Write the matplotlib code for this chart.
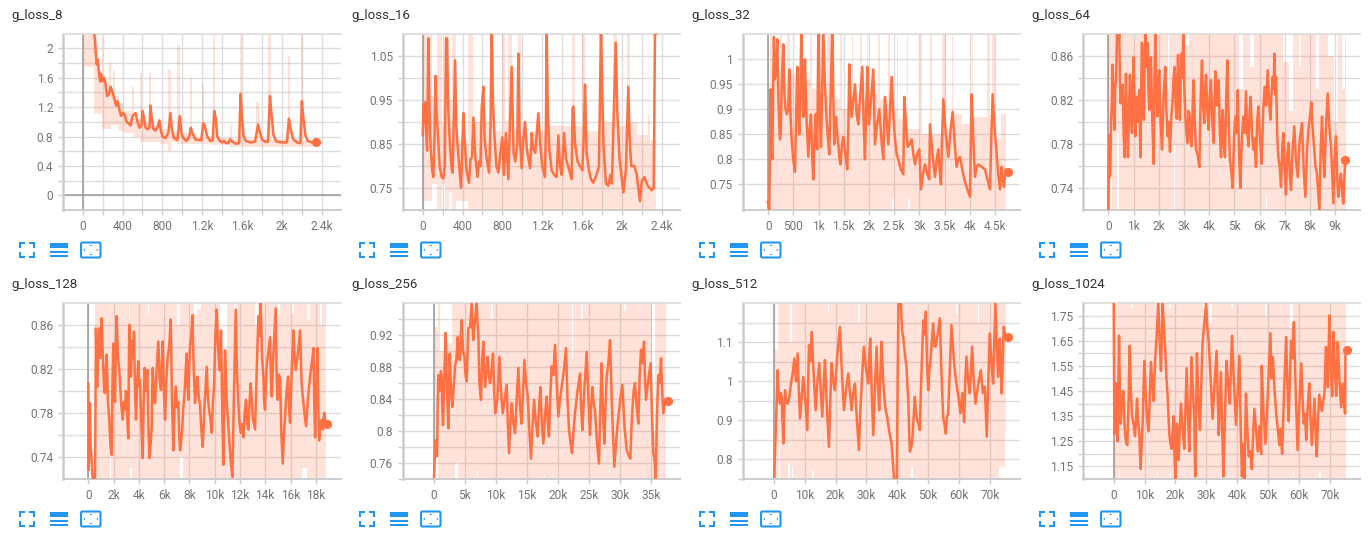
#!/usr/bin/env python3
# -*- coding: utf-8 -*-
"""
Eight g_loss scalar panels in the tensorboard look.
"""

import numpy as np
import matplotlib
matplotlib.use("Agg")
import matplotlib.pyplot as plt
from matplotlib.patches import FancyBboxPatch, Polygon, Rectangle

plt.rcParams['font.family'] = ['Roboto', 'DejaVu Sans']

LINE = '#ff7043'
GRID = '#dddddd'
EDGE = '#cccccc'
ZERO = '#999999'
BLUE = '#2196f3'

# smoothed curves, (step, value)
loss_8 = [(117,2.2),(130,1.95),(140,1.78),(150,1.85),(160,1.7),(175,1.55),(185,1.65),(195,1.55),(215,1.6),(230,1.5),(245,1.35),(265,1.38),(280,1.48),(300,1.4),(320,1.3),(335,1.22),(350,1.28),(365,1.18),(385,1.08),(400,1.12),(420,1.1),(440,1.0),(460,0.98),(480,0.95),(500,1.08),(515,1.1),(530,1.12),(550,1.0),(570,0.92),(590,0.95),(600,1.15),(615,1.05),(630,0.92),(650,0.9),(670,0.92),(680,1.22),(695,1.02),(710,0.9),(730,0.88),(750,0.92),(770,1.02),(785,0.88),(800,0.8),(830,0.78),(860,0.85),(880,1.12),(895,0.9),(915,0.78),(950,0.75),(975,1.08),(990,0.85),(1010,0.78),(1040,0.74),(1070,0.8),(1085,0.92),(1100,0.85),(1130,0.76),(1190,0.75),(1210,0.98),(1225,0.95),(1250,0.8),(1280,0.74),(1305,0.75),(1320,1.15),(1335,1.05),(1350,0.8),(1375,0.74),(1400,0.72),(1420,0.74),(1440,0.71),(1460,0.71),(1480,0.76),(1500,0.73),(1540,0.7),(1570,0.71),(1585,1.38),(1600,1.05),(1615,0.8),(1640,0.74),(1680,0.72),(1730,0.73),(1760,0.96),(1780,0.85),(1800,0.76),(1830,0.73),(1860,0.73),(1880,1.35),(1895,1.1),(1915,0.82),(1945,0.73),(2000,0.72),(2050,0.72),(2070,1.04),(2085,0.92),(2110,0.77),(2150,0.72),(2185,0.71),(2200,1.28),(2215,1.05),(2235,0.82),(2260,0.74),(2300,0.72),(2340,0.73)]

loss_16 = [(0,.87),(8,.94),(16,.9),(24,.945),(32,.89),(44,.835),(57,1.09),(68,.93),(80,.84),(95,.79),(107,.775),(118,.86),(125,.955),(130,1.005),(138,.93),(150,.88),(170,.8),(190,.775),(208,.772),(222,.8),(234,1.09),(244,1.09),(256,.93),(275,.84),(290,.795),(301,.785),(312,.9),(325,1.04),(338,.89),(352,.84),(370,.79),(385,.75),(398,.85),(408,.92),(420,.86),(440,.79),(465,.762),(480,.815),(495,.82),(509,.91),(525,.83),(549,.775),(565,.81),(580,.8),(592,.93),(609,.98),(622,.86),(640,.82),(666,.785),(680,.88),(693,1.11),(705,.95),(720,.87),(740,.8),(760,.785),(780,.83),(800,.865),(815,.78),(835,.875),(860,.77),(875,.89),(894,1.025),(912,.83),(930,.81),(950,.85),(960,1.055),(972,.88),(994,.795),(1010,.86),(1028,.9),(1045,.84),(1078,.795),(1095,.875),(1110,.84),(1130,.83),(1161,.92),(1180,.85),(1200,.8),(1228,.775),(1238,.9),(1245,1.11),(1255,.95),(1270,.84),(1295,.79),(1320,.78),(1345,.775),(1362,.87),(1378,.8),(1396,.78),(1419,.875),(1440,.815),(1460,.8),(1496,.77),(1505,.93),(1513,.935),(1530,.85),(1555,.81),(1580,.8),(1603,.79),(1618,.87),(1630,.985),(1645,.83),(1670,.79),(1690,.77),(1713,.762),(1745,.78),(1770,.8),(1790,1.11),(1800,1.0),(1815,.85),(1840,.76),(1864,.755),(1885,.78),(1900,.76),(1938,1.08),(1955,.92),(1975,.82),(2015,.74),(2040,.79),(2065,.98),(2078,.86),(2095,.8),(2125,.8),(2150,.78),(2182,.72),(2200,.765),(2225,.775),(2260,.755),(2300,.745),(2320,.75),(2333,1.11)]

loss_32 = [(-10,.715),(20,.70),(46,.94),(62,.86),(79,.80),(95,.93),(112,1.045),(130,.96),(146,.97),(162,1.0),(179,1.04),(198,.93),(218,.87),(232,.84),(245,.85),(270,.96),(298,1.03),(320,.93),(344,.9),(370,.89),(397,.9),(417,.98),(440,.89),(463,.84),(495,.8),(529,.775),(552,.88),(576,.985),(595,.9),(615,.85),(635,.93),(655,1.05),(675,.95),(695,.885),(712,.94),(728,1.0),(760,.88),(794,.805),(820,.86),(847,.89),(870,.81),(893,.76),(915,.83),(940,.89),(955,.84),(973,.82),(993,1.06),(1020,.9),(1046,.825),(1070,.94),(1092,1.06),(1125,.95),(1158,.88),(1185,.84),(1211,.81),(1240,.94),(1271,1.06),(1292,.92),(1310,.83),(1328,.87),(1343,.885),(1368,.85),(1390,.83),(1412,.8),(1436,.79),(1462,.83),(1489,.845),(1530,.81),(1568,.78),(1590,.87),(1608,.99),(1632,.92),(1655,.885),(1690,.92),(1721,.95),(1755,.89),(1787,.87),(1825,.93),(1866,.985),(1892,.88),(1919,.8),(1945,.9),(1966,.985),(1983,.92),(1999,.87),(2040,.92),(2085,.98),(2102,.9),(2118,.83),(2160,.87),(2204,.9),(2245,.84),(2283,.8),(2300,.87),(2316,.925),(2350,.88),(2383,.83),(2418,.9),(2449,.965),(2482,.89),(2515,.84),(2550,.81),(2581,.8),(2630,.78),(2680,.77),(2700,.925),(2735,.87),(2766,.825),(2805,.83),(2846,.84),(2880,.81),(2912,.79),(2955,.81),(2998,.82),(3031,.74),(3070,.77),(3110,.79),(3155,.77),(3196,.76),(3210,.87),(3260,.81),(3309,.765),(3345,.8),(3375,.82),(3400,.78),(3428,.75),(3450,.84),(3474,.92),(3525,.85),(3574,.805),(3620,.86),(3660,.895),(3700,.83),(3739,.785),(3772,.8),(3805,.805),(3850,.78),(3891,.76),(3950,.74),(4004,.725),(4037,.93),(4070,.84),(4103,.765),(4135,.785),(4169,.79),(4235,.785),(4302,.78),(4350,.76),(4401,.74),(4430,.85),(4454,.93),(4495,.86),(4533,.81),(4565,.77),(4600,.74),(4632,.785),(4655,.76),(4679,.745),(4710,.78),(4752,.775)]

loss_64 = [(0,.72),(20,.76),(40,.788),(60,.75),(80,.753),(110,.8),(145,.82),(170,.852),(205,.82),(240,.793),(270,.83),(305,.838),(325,.86),(345,.88),(390,.87),(435,.88),(460,.84),(490,.817),(530,.83),(570,.834),(610,.79),(650,.768),(675,.81),(700,.844),(740,.8),(780,.768),(820,.81),(860,.843),(900,.805),(940,.79),(975,.835),(1005,.859),(1035,.82),(1070,.787),(1100,.82),(1135,.823),(1180,.80),(1230,.829),(1255,.79),(1280,.768),(1310,.84),(1335,.872),(1375,.82),(1415,.802),(1440,.85),(1465,.88),(1510,.85),(1560,.872),(1590,.83),(1625,.811),(1655,.845),(1690,.859),(1745,.80),(1800,.762),(1830,.84),(1865,.88),(1905,.83),(1945,.805),(1980,.835),(2020,.847),(2075,.80),(2130,.775),(2195,.825),(2260,.85),(2305,.81),(2355,.787),(2400,.80),(2445,.773),(2500,.805),(2550,.82),(2590,.84),(2630,.85),(2670,.815),(2710,.803),(2740,.84),(2765,.861),(2800,.825),(2840,.802),(2870,.84),(2895,.862),(2935,.84),(2975,.88),(3015,.83),(3055,.805),(3100,.79),(3145,.781),(3180,.81),(3215,.808),(3260,.785),(3305,.778),(3345,.815),(3385,.838),(3430,.8),(3475,.775),(3545,.77),(3610,.759),(3660,.82),(3715,.856),(3760,.815),(3805,.799),(3840,.83),(3875,.843),(3925,.81),(3980,.793),(4025,.825),(4070,.838),(4125,.8),(4180,.781),(4215,.82),(4245,.846),(4310,.815),(4375,.838),(4425,.79),(4470,.768),(4505,.8),(4535,.811),(4580,.78),(4625,.768),(4675,.82),(4720,.856),(4775,.8),(4825,.765),(4880,.755),(4930,.74),(4985,.785),(5035,.805),(5085,.79),(5130,.829),(5185,.77),(5235,.74),(5295,.785),(5355,.805),(5410,.79),(5460,.828),(5510,.79),(5565,.778),(5605,.81),(5645,.823),(5700,.79),(5750,.775),(5800,.785),(5855,.759),(5900,.8),(5950,.814),(6015,.785),(6080,.762),(6140,.81),(6200,.832),(6260,.815),(6320,.847),(6370,.82),(6425,.802),(6470,.825),(6520,.841),(6555,.83),(6585,.862),(6620,.825),(6650,.841),(6695,.79),(6740,.768),(6795,.76),(6850,.741),(6895,.775),(6940,.79),(6990,.76),(7045,.734),(7095,.77),(7150,.781),(7200,.75),(7245,.738),(7310,.775),(7375,.796),(7440,.765),(7510,.75),(7595,.785),(7680,.799),(7750,.755),(7815,.732),(7880,.775),(7945,.796),(8000,.805),(8050,.818),(8100,.795),(8155,.778),(8215,.76),(8275,.753),(8325,.735),(8370,.72),(8420,.775),(8475,.805),(8520,.77),(8565,.75),(8630,.795),(8700,.826),(8765,.795),(8830,.778),(8880,.75),(8925,.726),(8975,.77),(9030,.787),(9075,.75),(9120,.732),(9170,.745),(9225,.753),(9275,.735),(9320,.726),(9360,.75),(9400,.765)]

loss_128 = [(0,.807),(26,.728),(80,.76),(130,.789),(185,.75),(240,.742),(290,.73),(345,.72),(440,.72),(530,.72),(570,.8),(605,.857),(660,.81),(710,.804),(790,.84),(870,.857),(960,.83),(1055,.866),(1120,.84),(1190,.819),(1255,.8),(1320,.798),(1385,.82),(1450,.833),(1555,.79),(1660,.774),(1755,.75),(1850,.742),(1915,.81),(1980,.843),(2045,.81),(2110,.79),(2180,.84),(2245,.868),(2350,.83),(2455,.819),(2590,.79),(2720,.774),(2810,.79),(2900,.783),(2970,.8),(3035,.798),(3100,.77),(3165,.757),(3205,.82),(3245,.86),(3310,.82),(3380,.813),(3430,.835),(3485,.846),(3550,.83),(3615,.854),(3695,.8),(3775,.774),(3870,.81),(3960,.827),(4025,.805),(4090,.81),(4195,.77),(4300,.739),(4380,.79),(4460,.821),(4565,.8),(4670,.819),(4750,.77),(4830,.739),(4925,.75),(5015,.768),(5055,.8),(5095,.821),(5190,.8),(5280,.789),(5410,.82),(5540,.845),(5645,.81),(5750,.801),(5815,.825),(5885,.845),(5980,.8),(6070,.774),(6175,.81),(6280,.831),(6400,.84),(6520,.865),(6625,.79),(6730,.746),(6820,.785),(6915,.804),(7020,.785),(7125,.79),(7190,.76),(7260,.746),(7350,.755),(7440,.768),(7520,.785),(7600,.795),(7690,.815),(7785,.834),(7850,.805),(7915,.792),(7980,.82),(8050,.84),(8140,.85),(8235,.869),(8340,.82),(8445,.789),(8540,.805),(8630,.813),(8735,.795),(8840,.787),(8945,.765),(9050,.749),(9210,.79),(9370,.822),(9460,.795),(9555,.783),(9660,.775),(9765,.762),(9860,.79),(9950,.804),(10050,.85),(10160,.874),(10265,.84),(10370,.819),(10435,.84),(10505,.855),(10600,.78),(10690,.733),(10755,.79),(10820,.837),(10950,.79),(11085,.768),(11240,.74),(11400,.722),(11530,.8),(11665,.874),(11770,.815),(11875,.789),(11965,.77),(12060,.762),(12165,.77),(12270,.758),(12375,.78),(12480,.792),(12575,.77),(12670,.765),(12760,.79),(12850,.807),(13020,.775),(13195,.765),(13330,.82),(13460,.868),(13550,.85),(13645,.88),(13750,.83),(13855,.813),(13920,.79),(13985,.783),(14090,.82),(14200,.831),(14290,.84),(14380,.849),(14450,.81),(14515,.795),(14670,.84),(14830,.875),(14910,.81),(14990,.792),(15080,.815),(15175,.81),(15280,.76),(15385,.734),(15480,.76),(15570,.777),(15690,.8),(15810,.813),(15885,.785),(15965,.771),(16100,.82),(16230,.855),(16320,.83),(16415,.819),(16590,.835),(16760,.855),(16865,.81),(16970,.795),(17100,.78),(17230,.768),(17390,.795),(17550,.813),(17680,.825),(17815,.839),(17880,.79),(17945,.758),(18035,.8),(18130,.839),(18195,.79),(18260,.755),(18365,.77),(18470,.774),(18565,.765),(18660,.78),(18790,.77),(18920,.77)]

loss_256 = [(50,.742),(185,.77),(320,.788),(430,.77),(535,.768),(640,.83),(750,.87),(885,.85),(1020,.851),(1155,.875),(1290,.868),(1395,.83),(1500,.807),(1715,.87),(1930,.923),(2145,.85),(2360,.803),(2470,.85),(2575,.897),(2790,.85),(3005,.83),(3220,.855),(3435,.881),(3650,.89),(3865,.918),(4050,.89),(4240,.889),(4375,.92),(4510,.939),(4725,.9),(4940,.893),(5130,.87),(5315,.862),(5450,.9),(5580,.929),(5850,.93),(6120,.96),(6255,.93),(6390,.914),(6660,.94),(6925,.96),(7060,.935),(7190,.922),(7275,.89),(7355,.86),(7490,.85),(7620,.839),(7810,.89),(8000,.912),(8130,.88),(8265,.855),(8480,.875),(8695,.893),(8880,.87),(9070,.86),(9310,.875),(9555,.897),(9740,.85),(9930,.822),(10250,.84),(10575,.893),(10840,.85),(11110,.822),(11430,.84),(11755,.858),(11940,.81),(12130,.772),(12345,.81),(12560,.835),(12830,.81),(13100,.797),(13370,.84),(13635,.879),(13900,.83),(14170,.809),(14385,.85),(14600,.889),(14870,.86),(15140,.843),(15410,.8),(15675,.765),(15915,.805),(16160,.839),(16455,.81),(16750,.793),(16965,.83),(17180,.855),(17420,.81),(17660,.784),(17930,.82),(18200,.843),(18385,.81),(18570,.793),(18785,.845),(19000,.881),(19270,.87),(19540,.908),(19805,.86),(20075,.818),(20340,.84),(20610,.855),(20960,.875),(21310,.904),(21550,.84),(21795,.801),(22040,.785),(22280,.772),(22520,.8),(22760,.822),(23160,.85),(23565,.872),(23750,.83),(23940,.801),(24290,.855),(24640,.899),(24910,.84),(25175,.795),(25360,.83),(25550,.855),(25765,.835),(25980,.826),(26300,.785),(26625,.759),(26840,.83),(27055,.885),(27270,.82),(27485,.784),(27670,.83),(27860,.868),(28130,.885),(28400,.914),(28750,.82),(29095,.755),(29420,.79),(29740,.818),(30060,.84),(30385,.858),(30730,.805),(31080,.776),(31375,.77),(31670,.765),(31830,.8),(31995,.826),(32205,.85),(32420,.86),(32690,.83),(32960,.809),(33175,.87),(33390,.902),(33630,.885),(33870,.912),(34030,.865),(34195,.839),(34570,.865),(34945,.885),(35160,.82),(35375,.772),(35560,.765),(35750,.74),(35965,.82),(36180,.87),(36395,.86),(36610,.891),(36800,.85),(36985,.822),(37330,.84),(37680,.837)]

loss_512 = [(215,.756),(430,.82),(645,.866),(970,.95),(1290,1.028),(1670,.96),(2050,.943),(2320,.97),(2585,.96),(2850,.9),(3125,.841),(3390,.92),(3660,.977),(4090,.945),(4525,.943),(5060,.96),(5600,.994),(6140,1.02),(6680,1.058),(7220,1.0),(7755,1.071),(8130,.98),(8510,.905),(9050,.96),(9585,1.011),(10230,.95),(10880,.875),(11150,1.0),(11420,1.092),(11850,1.05),(12280,1.126),(12920,1.02),(13570,.926),(14160,1.0),(14755,1.046),(15240,.97),(15725,.909),(16160,.99),(16590,1.054),(17230,.93),(17880,.832),(18310,.95),(18740,1.046),(19280,1.0),(19815,.977),(20620,1.07),(21430,1.139),(22070,1.02),(22720,.926),(23420,.98),(24125,1.02),(24660,.97),(25200,.926),(25740,.97),(26280,.994),(26920,.9),(27570,.824),(28000,.92),(28430,.986),(28810,1.04),(29190,1.088),(29890,1.03),(30590,.994),(30910,1.06),(31230,1.109),(31720,.97),(32200,.862),(32740,.98),(33280,1.088),(33710,.99),(34140,.926),(34520,1.02),(34895,1.101),(35430,1.0),(35970,.943),(36350,.92),(36725,.909),(37400,.87),(38125,.841),(38600,.79),(38990,.747),(39400,.747),(39850,.747),(40100,1.0),(40390,1.203),(40760,1.21),(41140,1.2),(41520,1.13),(41895,1.114),(42430,1.07),(42970,1.037),(43240,.99),(43510,.96),(43780,.88),(44050,.82),(44480,.83),(44910,.858),(45290,.91),(45665,.96),(46040,.92),(46420,.9),(46850,.89),(47280,.875),(47550,.96),(47820,1.028),(48140,1.1),(48465,1.156),(48840,1.12),(49220,1.178),(49600,1.05),(49970,.977),(50350,1.03),(50730,1.054),(51160,1.1),(51590,1.148),(51960,1.09),(52340,1.088),(53040,1.12),(53745,1.161),(54280,1.02),(54820,.909),(55250,.89),(55680,.866),(56060,.91),(56435,.918),(56970,1.03),(57510,1.144),(58050,1.08),(58590,1.028),(59020,1.0),(59450,.977),(59930,.95),(60420,.918),(61010,.97),(61600,.896),(61980,1.0),(62360,1.063),(62900,1.0),(63430,.969),(63810,1.03),(64190,1.088),(64730,1.0),(65270,.943),(66130,.99),(66990,1.028),(67640,.97),(68280,.986),(68600,.92),(68930,.858),(69420,1.0),(69900,1.122),(70430,1.05),(70970,.994),(71350,1.1),(71730,1.2),(72160,1.09),(72590,1.011),(72860,1.06),(73130,1.109),(73450,1.03),(73770,.969),(74100,1.06),(74420,1.139),(75100,1.11),(75820,1.114)]

loss_1024 = [(0,1.8),(110,1.5),(215,1.28),(480,1.36),(755,1.48),(1020,1.35),(1295,1.25),(1510,1.45),(1725,1.67),(2000,1.45),(2265,1.32),(2700,1.42),(3130,1.45),(3450,1.33),(3775,1.27),(4100,1.24),(4420,1.235),(4800,1.4),(5180,1.63),(5550,1.45),(5935,1.35),(6420,1.32),(6905,1.27),(7230,1.34),(7550,1.42),(7920,1.33),(8300,1.28),(8520,1.2),(8735,1.14),(9050,1.24),(9380,1.33),(9650,1.45),(9920,1.57),(10180,1.5),(10450,1.41),(10880,1.33),(11300,1.29),(11680,1.43),(12060,1.565),(12480,1.48),(12900,1.41),(13180,1.5),(13460,1.585),(13950,1.68),(14430,1.8),(14860,1.65),(15300,1.53),(15560,1.65),(15830,1.8),(16260,1.7),(16690,1.61),(17070,1.5),(17450,1.43),(17720,1.35),(17990,1.28),(18360,1.24),(18740,1.22),(19070,1.29),(19400,1.35),(19660,1.2),(19930,1.1),(20200,1.22),(20470,1.32),(20730,1.24),(21000,1.175),(21380,1.3),(21760,1.4),(22300,1.3),(22840,1.22),(23220,1.38),(23600,1.54),(24030,1.36),(24460,1.21),(24830,1.4),(25200,1.585),(25650,1.45),(26100,1.33),(26250,1.2),(26400,1.11),(26660,1.35),(26930,1.6),(27410,1.42),(27900,1.295),(28320,1.47),(28750,1.64),(29320,1.72),(29900,1.8),(30320,1.7),(30750,1.645),(31370,1.5),(32000,1.34),(32650,1.48),(33300,1.61),(33650,1.43),(34000,1.275),(34350,1.4),(34700,1.525),(35100,1.3),(35500,1.11),(36000,1.35),(36500,1.57),(37050,1.48),(37600,1.4),(37950,1.55),(38300,1.67),(38950,1.47),(39600,1.315),(40150,1.45),(40700,1.59),(41100,1.3),(41500,1.11),(41900,1.24),(42300,1.1),(42550,1.27),(42800,1.44),(43250,1.3),(43700,1.19),(44200,1.21),(44700,1.14),(45100,1.27),(45500,1.38),(46050,1.3),(46600,1.21),(47150,1.31),(47700,1.2),(47900,1.55),(48500,1.36),(49100,1.24),(49450,1.33),(49800,1.415),(50250,1.55),(50700,1.68),(51100,1.5),(51500,1.585),(52050,1.45),(52600,1.36),(53100,1.3),(53600,1.235),(54050,1.3),(54500,1.2),(55150,1.45),(55800,1.665),(56200,1.48),(56600,1.33),(57000,1.5),(57400,1.65),(57850,1.58),(58300,1.725),(58900,1.45),(59500,1.215),(60100,1.4),(60700,1.56),(61100,1.43),(61500,1.32),(61900,1.36),(62300,1.255),(62800,1.39),(63300,1.48),(63700,1.34),(64100,1.235),(64550,1.33),(65000,1.42),(65350,1.28),(65700,1.19),(66100,1.33),(66500,1.435),(67350,1.37),(68200,1.44),(68450,1.54),(68700,1.625),(69000,1.53),(69300,1.465),(69550,1.6),(69800,1.75),(70250,1.55),(70700,1.43),(70900,1.56),(71100,1.685),(71550,1.55),(72000,1.43),(72250,1.52),(72500,1.645),(73050,1.5),(73600,1.385),(73850,1.43),(74100,1.48),(74500,1.4),(74900,1.36),(75000,1.615),(75500,1.615)]

# raw curves behind them, kept as (step, low, high), each row holds until the next one
raw_8 = [(10,1.75,2.2),(117,1.1,2.2),(150,1.1,1.7),(190,.9,2.2),(205,.9,1.55),(265,.9,1.8),(285,.95,1.45),(305,.95,1.7),(325,.95,1.35),(350,.9,1.35),(365,.88,1.25),(410,.85,1.15),(490,.85,1.47),(510,.8,1.05),(580,.72,1.66),(600,.72,.98),(670,.72,1.67),(690,.72,.95),(780,.7,.9),(860,.6,1.7),(885,.72,.88),(950,.7,2.05),(975,.7,.85),(1075,.7,1.6),(1095,.7,.8),(1195,.7,1.5),(1215,.7,.8),(1305,.68,2.2),(1325,.68,.78),(1475,.66,.95),(1495,.66,.76),(1575,.66,2.2),(1600,.66,.76),(1740,.66,1.27),(1765,.66,.76),(1865,.66,2.2),(1890,.66,.76),(2060,.66,1.9),(2085,.66,.75),(2190,.66,2.2),(2210,.66,.75),(2340,.66,.66)]

raw_16 = [(0,.72,1.1),(97,.76,.96),(140,.7,1.1),(190,.76,.9),(224,.7,1.1),(264,.74,.95),(298,.7,1.1),(331,.72,.86),(458,.7,1.1),(509,.7,.9),(676,.7,1.1),(710,.7,.88),(793,.7,1.1),(827,.7,.9),(860,.7,1.1),(894,.7,.88),(960,.7,1.1),(987,.7,.86),(1060,.7,.84),(1120,.7,.88),(1228,.7,1.1),(1262,.7,.89),(1496,.7,1.1),(1530,.7,.89),(1597,.7,1.1),(1630,.7,.88),(1780,.7,1.1),(1814,.7,.9),(1914,.7,1.1),(1948,.7,.89),(2048,.7,1.1),(2082,.7,.9),(2149,.7,.87),(2266,.7,.915),(2283,.7,.86),(2343,.7,.7)]

raw_32 = [(33,.7,1.05),(80,.7,.98),(232,.7,1.05),(278,.7,.95),(364,.7,1.05),(430,.7,.97),(560,.7,.93),(629,.7,1.05),(695,.7,.96),(827,.7,1.05),(860,.7,.94),(960,.7,1.05),(1092,.7,.93),(1158,.7,1.05),(1290,.7,.92),(1423,.7,1.05),(1456,.7,.9),(1655,.7,1.05),(1688,.7,.91),(1820,.7,1.05),(1853,.7,.92),(1952,.7,1.05),(1985,.7,.93),(2184,.7,1.05),(2217,.7,.92),(2382,.7,1.05),(2416,.7,.9),(2460,.72,.9),(2490,.7,.9),(2548,.7,1.05),(2581,.7,.88),(2746,.7,1.05),(2780,.72,.86),(2810,.7,.86),(3011,.7,1.05),(3044,.7,.85),(3210,.7,1.05),(3243,.7,.85),(3441,.7,1.05),(3521,.7,.86),(3640,.7,1.05),(3673,.7,.89),(3850,.7,.87),(4037,.7,1.05),(4070,.7,.885),(4335,.7,1.05),(4401,.7,.88),(4447,.7,1.05),(4500,.7,.84),(4610,.7,.89),(4712,.7,.7)]

raw_64 = [(0,.72,.88),(100,.78,.88),(160,.72,.88),(345,.79,.88),(440,.72,.88),(1000,.72,.875),(1050,.72,.88),(2350,.72,.83),(2420,.72,.88),(2600,.78,.88),(2660,.72,.88),(3055,.72,.87),(3200,.72,.88),(5200,.72,.83),(5330,.72,.88),(5600,.72,.85),(5790,.72,.88),(6250,.735,.88),(6300,.72,.88),(6910,.72,.855),(7180,.72,.81),(7310,.72,.88),(7575,.72,.85),(7640,.72,.88),(8235,.72,.83),(8340,.72,.88),(8700,.72,.86),(8960,.72,.80),(9100,.72,.88),(9280,.72,.83),(9400,.72,.88),(9420,.72,.72)]

raw_128 = [(530,.72,.88),(1680,.74,.88),(1800,.72,.88),(3200,.72,.865),(3300,.73,.88),(3450,.72,.88),(4700,.72,.87),(4800,.72,.88),(5900,.72,.87),(6000,.72,.88),(7000,.72,.86),(7250,.74,.88),(7500,.72,.88),(8400,.72,.87),(8600,.72,.875),(8900,.72,.88),(10400,.72,.83),(10950,.72,.88),(11500,.72,.86),(11650,.72,.88),(13200,.72,.86),(13400,.72,.88),(15000,.72,.87),(15150,.72,.88),(16000,.72,.87),(16300,.72,.88),(16900,.73,.88),(17300,.72,.865),(17550,.72,.88),(18300,.72,.86),(18500,.72,.88),(18800,.72,.72)]

raw_256 = [(215,.78,.93),(750,.74,.96),(1020,.74,.9),(2100,.74,.91),(2900,.74,.96),(3400,.76,.96),(3970,.74,.96),(6900,.75,.96),(7200,.74,.96),(9300,.74,.94),(9500,.74,.96),(14000,.74,.95),(14200,.74,.96),(17700,.745,.96),(17900,.74,.96),(22200,.74,.89),(22500,.74,.96),(23800,.74,.94),(24000,.74,.96),(30600,.74,.95),(31000,.74,.96),(35100,.74,.80),(35640,.74,.96),(37400,.74,.74)]

raw_512 = [(430,.75,1.08),(1300,.75,1.2),(1800,.87,1.2),(2200,.75,1.2),(4600,.79,1.2),(5400,.75,1.1),(6000,.78,1.2),(6400,.75,1.2),(12500,.77,1.2),(13000,.75,1.2),(17500,.75,1.18),(18000,.75,1.2),(27400,.75,1.15),(28000,.75,1.2),(39900,.75,1.2),(44500,.78,1.2),(45000,.75,1.2),(59000,.75,1.17),(59700,.75,1.2),(66000,.75,1.15),(66500,.75,1.2),(73000,.78,1.2),(74700,.87,1.2),(75300,.75,.75)]

raw_1024 = [(215,1.1,1.8),(1800,1.14,1.8),(2200,1.1,1.8),(5700,1.1,1.78),(6100,1.1,1.8),(14000,1.13,1.8),(14300,1.1,1.8),(17900,1.12,1.78),(18400,1.1,1.8),(29000,1.1,1.75),(29400,1.1,1.8),(31000,1.1,1.72),(31800,1.1,1.8),(38000,1.1,1.78),(38500,1.1,1.8),(49000,1.1,1.75),(49500,1.1,1.8),(57000,1.1,1.7),(58000,1.13,1.8),(58500,1.1,1.8),(66500,1.13,1.8),(67000,1.1,1.8),(75200,1.1,1.1)]

titles = ['g_loss_8', 'g_loss_16', 'g_loss_32', 'g_loss_64',
          'g_loss_128', 'g_loss_256', 'g_loss_512', 'g_loss_1024']
smooth = [loss_8, loss_16, loss_32, loss_64, loss_128, loss_256, loss_512, loss_1024]
raw = [raw_8, raw_16, raw_32, raw_64, raw_128, raw_256, raw_512, raw_1024]

# axis ranges
x_lims = [(-198, 2593), (-201, 2584), (-508, 4997), (-1003, 9992),
          (-2003, 19995), (-4993, 39670), (-10019, 79677), (-9935, 79806)]
y_lims = [(-0.2, 2.195), (.70, 1.10), (.6987, 1.0507), (.72, .88),
          (.72, .88), (.7395, .9606), (.75, 1.2), (1.10, 1.80)]

# labelled ticks, then the unlabelled grid lines
x_major = [400, 400, 500, 1000, 2000, 5000, 10000, 10000]
x_minor = [200, 200, 500, 1000, 2000, 5000, 10000, 10000]
y_major = [[0, .4, .8, 1.2, 1.6, 2], [.75, .85, .95, 1.05], [.75, .8, .85, .9, .95, 1],
           [.74, .78, .82, .86], [.74, .78, .82, .86], [.76, .8, .84, .88, .92],
           [.8, .9, 1, 1.1], [1.15, 1.25, 1.35, 1.45, 1.55, 1.65, 1.75]]
y_minor = [[.2, .6, 1, 1.4, 1.8], [.8, .9, 1], [], [.76, .8, .84],
           [.76, .8, .84], [.74, .78, .82, .86, .9, .94], [.75, .85, .95, 1.05, 1.15],
           [1.2, 1.3, 1.4, 1.5, 1.6, 1.7]]

left_px = [63, 402.7, 742.7, 1083]
right_px = [341, 680, 1020, 1360.3]
top_px = [34, 303]
bottom_px = [210, 479]
W, H = 1371, 537


def fmt_step(v):
    if v == 0:
        return '0'
    if abs(v) >= 1000:
        return '%gk' % (v / 1000)
    return '%g' % v


def draw_icons(over, dx, dy):
    # expand icon
    for cx, cy, sx, sy in [(20, 243, 1, 1), (34, 243, -1, 1), (20, 257, 1, -1), (34, 257, -1, -1)]:
        over.plot([cx + dx + 5 * sx, cx + dx, cx + dx], [cy + dy, cy + dy, cy + dy + 5 * sy],
                  color=BLUE, lw=1.5, solid_capstyle='butt', solid_joinstyle='miter')
    # list icon
    for y0, y1 in [(242.7, 248), (250.7, 253.2), (255, 257.4)]:
        over.add_patch(Rectangle((50 + dx, y0 + dy), 18, y1 - y0, color=BLUE, lw=0))
    # fit icon
    over.add_patch(FancyBboxPatch((81 + dx, 242.5 + dy), 19.5, 15, boxstyle='round,pad=0,rounding_size=1.5',
                                  fc='none', ec=BLUE, lw=1.5))
    cx, cy = 90.8 + dx, 250 + dy
    for a, b, c in [((-1.5, -4), (1.5, -4), (0, -5.5)), ((-1.5, 4), (1.5, 4), (0, 5.5)),
                    ((-6, -1.5), (-6, 1.5), (-7.5, 0)), ((6, -1.5), (6, 1.5), (7.5, 0))]:
        over.add_patch(Polygon([(cx + a[0], cy + a[1]), (cx + b[0], cy + b[1]), (cx + c[0], cy + c[1])],
                               color=BLUE, lw=0))


def draw_panel(fig, i):
    col, row = i % 4, i // 4
    x0, x1, y0, y1 = left_px[col], right_px[col], top_px[row], bottom_px[row]
    ax = fig.add_axes([x0 / W, 1 - y1 / H, (x1 - x0) / W, (y1 - y0) / H])
    ax.set_xlim(x_lims[i])
    ax.set_ylim(y_lims[i])

    ax.set_xticks(np.arange(0, x_lims[i][1], x_major[i]))
    ax.set_xticks(np.arange(x_minor[i], x_lims[i][1], x_minor[i]), minor=True)
    ax.xaxis.set_major_formatter(lambda v, pos: fmt_step(v))
    ax.set_yticks(y_major[i])
    ax.set_yticks(y_minor[i], minor=True)
    ax.yaxis.set_major_formatter(lambda v, pos: '%g' % round(v, 3))

    ax.grid(which='both', color=GRID, lw=1.0)
    ax.set_axisbelow(True)
    ax.tick_params(which='both', length=3.6, width=1.0, color=EDGE, labelcolor='#757575',
                   labelsize=8.6, pad=3.5)
    ax.spines['right'].set_visible(False)
    ax.spines['top'].set_color(GRID)
    ax.spines['top'].set_linewidth(1.3)
    ax.spines['left'].set_color(EDGE)
    ax.spines['left'].set_linewidth(1.8)
    ax.spines['bottom'].set_color(EDGE)
    ax.spines['bottom'].set_linewidth(1.4)

    ax.axvline(0, color=ZERO, lw=1.1, zorder=1.5)
    if y_lims[i][0] < 0:
        ax.axhline(0, color=ZERO, lw=1.1, zorder=1.5)

    r = np.array(raw[i], dtype=float)
    ax.fill_between(r[:, 0], r[:, 1], r[:, 2], step='post', color=LINE, alpha=0.2, lw=0, zorder=2)

    s = np.array(smooth[i], dtype=float)
    ax.plot(s[:, 0], s[:, 1], color=LINE, lw=1.8, solid_joinstyle='round', zorder=3)
    ax.plot(s[-1, 0], s[-1, 1], 'o', color=LINE, ms=6.6, mew=0, zorder=4)


def main():
    fig = plt.figure(figsize=(W / 100, H / 100), dpi=100, facecolor='white')
    for i in range(8):
        draw_panel(fig, i)

    # page coordinates for the titles and the small buttons
    over = fig.add_axes([0, 0, 1, 1], facecolor='none')
    over.set_xlim(0, W)
    over.set_ylim(H, 0)
    over.axis('off')
    for i, name in enumerate(titles):
        col, row = i % 4, i // 4
        dx = [0, 340, 680, 1020][col]
        dy = [0, 269][row]
        over.text(11 + dx, 15.5 + dy, name, color='#333333', fontsize=9.5, va='center', ha='left')
        draw_icons(over, dx, dy)

    fig.savefig('out.png', dpi=100)


if __name__ == "__main__":
    main()
